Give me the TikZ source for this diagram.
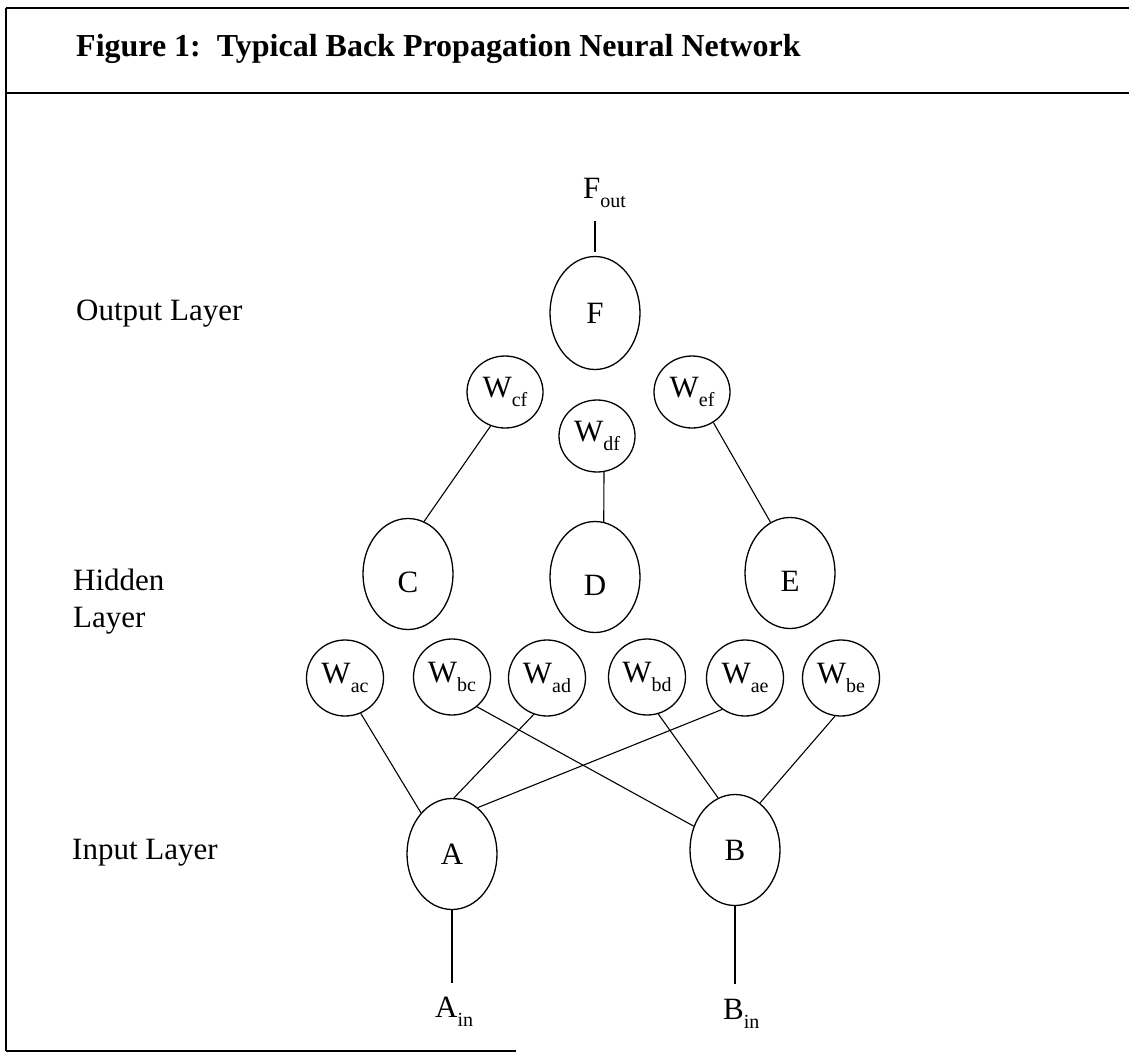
\documentclass[tikz,border=0pt]{standalone}
\usepackage{fontspec}
\setmainfont{Liberation Serif}
\usetikzlibrary{shapes.geometric}
\newcommand\wsub[1]{\raisebox{-9pt}{\fontsize{20}{20}\selectfont #1}}
\tikzset{
  txt/.style={inner sep=0pt, font=\fontsize{31}{37}\selectfont},
  neuron/.style={draw, ellipse, line width=1.3pt, minimum width=90pt, minimum height=111pt, inner sep=0pt, font=\fontsize{31}{37}\selectfont},
  lowtext/.style={text height=37pt, text depth=0pt},
  weight/.style={draw, ellipse, line width=1.3pt, minimum width=77pt, minimum height=76pt, inner sep=0pt, font=\fontsize{31}{37}\selectfont},
  tweight/.style={weight, minimum width=76pt, minimum height=72pt},
  conn/.style={line width=1.1pt},
  frame/.style={line width=2.4pt},
}
\begin{document}
\begin{tikzpicture}[x=1pt,y=-1pt]
\useasboundingbox (0,0) rectangle (1129,1055);
% frame
\draw[frame] (6,8) -- (1129,8);
\draw[frame] (6,93) -- (1129,93);
\draw[line width=1.4pt] (6,8) -- (6,1051);
\draw[frame] (6,1051) -- (516,1051);
\node[inner sep=0pt, anchor=base west, font=\fontsize{32}{38}\selectfont\bfseries] (title) at (76,56) {Figure 1:\ \ Typical Back Propagation Neural Network};
% layer labels
\node[txt, anchor=base west] (outl) at (76,320) {Output Layer};
\node[txt, anchor=west, align=left] (hidl) at (73,602) {Hidden\\Layer};
\node[txt, anchor=base west] (inl) at (72,859) {Input Layer};
% neurons
\node[neuron, minimum height=113pt] (F) at (595,313) {F};
\node[neuron, lowtext] (C) at (408,574) {C};
\node[neuron, lowtext] (D) at (595,577) {D};
\node[neuron, lowtext] (E) at (790,573) {E};
\node[neuron] (A) at (452,854) {A};
\node[neuron] (B) at (735,850) {B};
% weights
\node[tweight] (Wcf) at (505,392) {W\wsub{cf}};
\node[tweight] (Wdf) at (597,436) {W\wsub{df}};
\node[tweight] (Wef) at (692,392) {W\wsub{ef}};
\node[weight] (Wac) at (345,678) {W\wsub{ac}};
\node[weight] (Wbc) at (452,677) {W\wsub{bc}};
\node[weight] (Wad) at (547,678) {W\wsub{ad}};
\node[weight] (Wbd) at (647,677) {W\wsub{bd}};
\node[weight] (Wae) at (745,678) {W\wsub{ae}};
\node[weight] (Wbe) at (841,678) {W\wsub{be}};
% in/out labels
\node[txt, anchor=base west] (Fout) at (583,198) {F\wsub{out}};
\node[txt, anchor=base west] (Ain) at (435,1017) {A\wsub{in}};
\node[txt, anchor=base west] (Bin) at (723,1019) {B\wsub{in}};
% connectors
\draw[conn, shorten <=4pt, shorten >=14pt] (F.north) -- (F.north |- Fout.south);
\draw[conn, shorten >=13pt] (A.south) -- (A.south |- Ain.north);
\draw[conn, shorten >=15pt] (B.south) -- (B.south |- Bin.north);
\draw[conn] (Wcf.247) -- (C.73);
\draw[conn] (Wdf.281) -- (D.81);
\draw[conn] (Wef.305) -- (E.111);
\draw[conn] (Wac.294) -- (A.127);
\draw[conn] (Wbc.310) -- (B.150);
\draw[conn] (Wad.250) -- (A.88);
\draw[conn] (Wbd.287) -- (B.108);
\draw[conn] (Wae.234) -- (A.61);
\draw[conn] (Wbe.261) -- (B.62);
\end{tikzpicture}
\end{document}
